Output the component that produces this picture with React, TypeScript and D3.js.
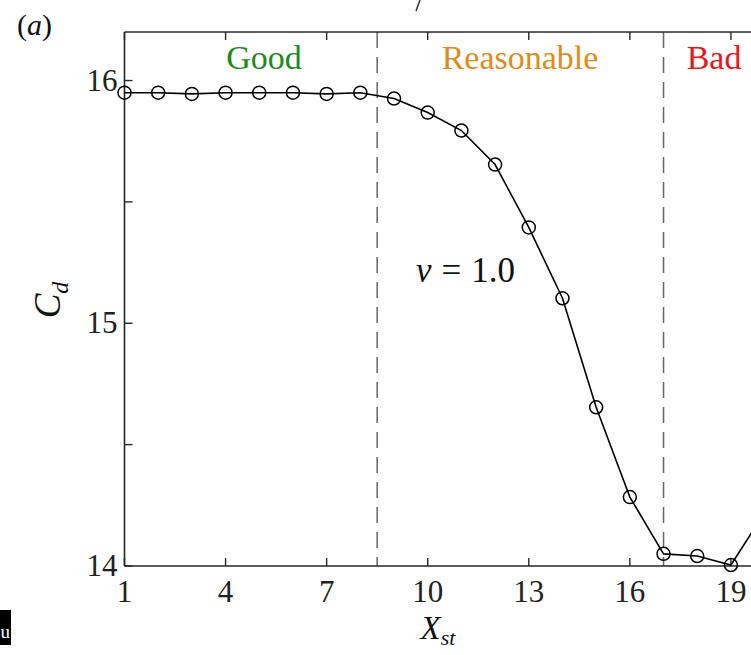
import React from "react";
import * as d3 from "d3";

const xValues = [1, 2, 3, 4, 5, 6, 7, 8, 9, 10, 11, 12, 13, 14, 15, 16, 17, 18, 19, 20];
const cdValues = [15.95, 15.95, 15.945, 15.95, 15.95, 15.95, 15.945, 15.95, 15.926, 15.868, 15.794, 15.654, 15.395, 15.103, 14.654, 14.284, 14.05, 14.041, 14.004, 14.22];
const xTicks = [1, 4, 7, 10, 13, 16, 19];
const yTicks = [14, 14.5, 15, 15.5, 16];
const yTickLabels = ["14", "", "15", "", "16"];
const regionBounds = [8.5, 17];
const regions = [
  { label: "Good", x: 5.14, color: "#1e8a1e" },
  { label: "Reasonable", x: 12.74, color: "#e08b1d" },
  { label: "Bad", x: 18.5, color: "#e3191c" },
];

const W = 751;
const H = 655;
const left = 124.5;
const top = 32;
const bottom = 566;
const font = "'Liberation Serif', 'DejaVu Serif', serif";

export default function App() {
  const x = d3.scaleLinear().domain([1, 21]).range([left, left + 20 * 33.69]);
  const y = d3.scaleLinear().domain([14, 16.2]).range([bottom, top]);
  const line = d3.line<number>().x((_, i) => x(xValues[i])).y((d) => y(d));
  const right = x(21);
  const axisColor = "#262626";
  const tl = 8;

  return (
    <svg width={W} height={H} style={{ position: "absolute", left: 0, top: 0, background: "#fff" }} fontFamily={font}>
      <rect width={W} height={H} fill="#fff" />
      {regionBounds.map((b) => (
        <line key={b} x1={x(b)} x2={x(b)} y1={top} y2={bottom} stroke="#666" strokeWidth={1.5} strokeDasharray="16,9" />
      ))}
      <line x1={left} x2={right} y1={top} y2={top} stroke={axisColor} strokeWidth={1.6} />
      <line x1={left} x2={right} y1={bottom} y2={bottom} stroke={axisColor} strokeWidth={1.6} />
      <line x1={left} x2={left} y1={top} y2={bottom} stroke={axisColor} strokeWidth={1.6} />
      {xTicks.map((t) => (
        <g key={t}>
          <line x1={x(t)} x2={x(t)} y1={bottom} y2={bottom - tl} stroke={axisColor} strokeWidth={1.4} />
          <line x1={x(t)} x2={x(t)} y1={top} y2={top + tl} stroke={axisColor} strokeWidth={1.4} />
          <text x={x(t)} y={bottom + 36} textAnchor="middle" fontSize={31} fill="#222">{t}</text>
        </g>
      ))}
      {yTicks.map((t, i) => (
        <g key={t}>
          <line x1={left} x2={left + tl} y1={y(t)} y2={y(t)} stroke={axisColor} strokeWidth={1.4} />
          {yTickLabels[i] && (
            <text x={left - 7} y={y(t) + 10} textAnchor="end" fontSize={31} fill="#222">{yTickLabels[i]}</text>
          )}
        </g>
      ))}
      {regions.map((r) => (
        <text key={r.label} x={x(r.x)} y={69} textAnchor="middle" fontSize={34} fill={r.color}>{r.label}</text>
      ))}
      <path d={line(cdValues) || ""} fill="none" stroke="#000" strokeWidth={1.6} />
      {cdValues.map((v, i) => (
        <circle key={i} cx={x(xValues[i])} cy={y(v)} r={6.5} fill="none" stroke="#000" strokeWidth={1.5} />
      ))}
      <text x={416} y={282} fontSize={35} fill="#111">
        <tspan fontStyle="italic">ν</tspan>
        <tspan dx={10}>=</tspan>
        <tspan dx={10}>1.0</tspan>
      </text>
      <text transform={`translate(60,300) rotate(-90)`} textAnchor="middle" fontSize={37} fill="#111">
        <tspan fontStyle="italic">C</tspan>
        <tspan fontStyle="italic" fontSize={24} dy={8}>d</tspan>
      </text>
      <text x={438} y={639} textAnchor="middle" fontSize={33} fill="#111">
        <tspan fontStyle="italic">X</tspan>
        <tspan fontStyle="italic" fontSize={22} dy={6}>st</tspan>
      </text>
      <text x={17} y={35} fontSize={30} fill="#111">
        <tspan>(</tspan>
        <tspan fontStyle="italic">a</tspan>
        <tspan>)</tspan>
      </text>
      <line x1={420} x2={416} y1={0} y2={11} stroke="#333" strokeWidth={1.5} />
      <rect x={0} y={610} width={11} height={35} fill="#000" />
      <text x={0.5} y={638} fontSize={19} fill="#fff">u</text>
    </svg>
  );
}
